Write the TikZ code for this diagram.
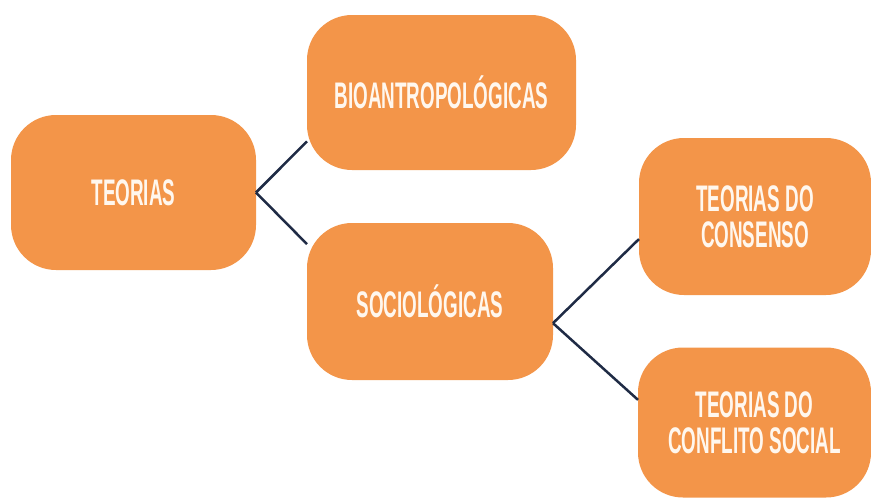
\documentclass[tikz,border=0pt]{standalone}
\usepackage{fontspec}
\newfontfamily\boxfont[FakeStretch=0.51]{Liberation Sans}

\definecolor{boxorange}{HTML}{F39549}
\definecolor{boxtext}{HTML}{FFF7EE}
\definecolor{linkblue}{HTML}{1F2B45}

\tikzset{
    theory/.style={fill=boxorange, rounded corners=45pt, inner sep=0pt, outer sep=0pt,
        align=center, text=boxtext, font=\boxfont\bfseries\fontsize{37}{36}\selectfont},
    link/.style={draw=linkblue, line width=2.5pt}
}

\begin{document}
\begin{tikzpicture}[x=1pt, y=-1pt]

    % Frame of the picture
    \def\width{871}
    \def\height{498}
    \useasboundingbox (0, 0) rectangle (\width, \height);

    % Boxes
    \node[theory, minimum width=245pt, minimum height=155pt] (teorias) at (133.5, 192.5) {TEORIAS};
    \node[theory, minimum width=269pt, minimum height=155pt] (bio) at (441.5, 92.5) {BIOANTROPOLÓGICAS};
    \node[theory, minimum width=246pt, minimum height=157pt] (socio) at (430, 301.5) {SOCIOLÓGICAS};
    \node[theory, minimum width=232pt, minimum height=157pt] (consenso) at (755, 216.5) {TEORIAS DO\\CONSENSO};
    \node[theory, minimum width=233pt, minimum height=150pt] (conflito) at (754.5, 422.5) {TEORIAS DO\\CONFLITO SOCIAL};

    % Links between the boxes
    \draw[link] (teorias.east) -- (bio.200);
    \draw[link] (teorias.east) -- (socio.155);
    \draw[link] (socio.-10) -- (consenso.191);
    \draw[link] (socio.-10) -- (conflito.169);

\end{tikzpicture}
\end{document}
